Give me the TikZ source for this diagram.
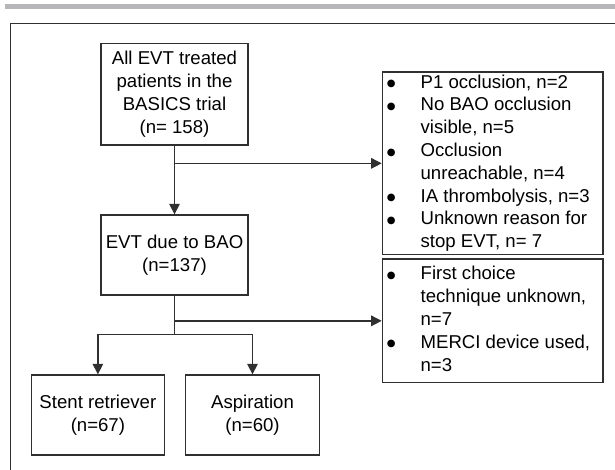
\documentclass[tikz,border=0pt]{standalone}
\usepackage{fontspec}
\setmainfont{Liberation Sans}
\newfontfamily\symfont{DejaVu Sans}
\usetikzlibrary{arrows.meta}
\definecolor{boxline}{HTML}{303030}
\definecolor{bargray}{HTML}{B7B7BA}
\tikzset{
  txt/.style={font=\fontsize{18.6}{22.8}\selectfont, text=black},
  flowbox/.style={txt, draw=boxline, line width=1.3pt, align=center,
    inner sep=0pt},
  listbox/.style={txt, draw=boxline, line width=1.3pt, inner sep=0pt,
    anchor=west},
  conn/.style={draw=boxline, line width=1.3pt},
  arr/.style={conn, -{Triangle[length=10.5pt,width=10.5pt]}}
}
% list bullet: a small filled circle centred on the x-height
\newcommand{\blt}{\raisebox{1.3pt}{\symfont\fontsize{10}{10}\selectfont ●}}
\newcommand{\bulletlist}[1]{%
  \begin{tabular}{@{\hspace{4.5pt}}p{33.8pt}@{}p{182.3pt}@{}}#1\end{tabular}}
\begin{document}
\begin{tikzpicture}[x=1pt, y=-1pt]
  \useasboundingbox (0,0) rectangle (615,470);

  % header rule and outer frame
  \fill[bargray] (5,4) rectangle (615,9);
  \draw[boxline, line width=1pt] (10,470) -- (10,24) -- (615,24);

  % main flow
  \node[flowbox, minimum width=147pt, minimum height=101.7pt] (all)
    at (174.5,94.2) {All EVT treated\\patients in the\\BASICS trial\\(n= 158)};
  \node[flowbox, minimum width=147pt, minimum height=80pt] (bao)
    at (174.5,255) {EVT due to BAO\\(n=137)};
  \node[flowbox, minimum width=133.2pt, minimum height=80pt] (stent)
    at (97.9,415) {Stent retriever\\(n=67)};
  \node[flowbox, minimum width=133.4pt, minimum height=80pt] (asp)
    at (252.5,415) {Aspiration\\(n=60)};

  % exclusion lists
  \node[listbox, minimum height=181.3pt] (excl1) at (381.7,163.35) {\bulletlist{%
    \blt & P1 occlusion, n=2\\
    \blt & No BAO occlusion\\
         & visible, n=5\\
    \blt & Occlusion\\
         & unreachable, n=4\\
    \blt & IA thrombolysis, n=3\\
    \blt & Unknown reason for\\
         & stop EVT, n= 7}};
  \node[listbox, minimum height=123.7pt] (excl2) at (381.7,320.85) {\bulletlist{%
    \blt & First choice\\
         & technique unknown,\\
         & n=7\\
    \blt & MERCI device used,\\
         & n=3}};

  % connectors
  \coordinate (split) at (174.5,334.3);
  \draw[arr] (all.south) -- (bao.north);
  \draw[arr] (all.south |- excl1.west) -- (excl1.west);
  \draw[conn] (bao.south) -- (split);
  \draw[arr] (bao.south |- excl2.west) -- (excl2.west);
  \draw[arr] (split) -| (stent.north);
  \draw[arr] (split) -| (asp.north);
\end{tikzpicture}
\end{document}
